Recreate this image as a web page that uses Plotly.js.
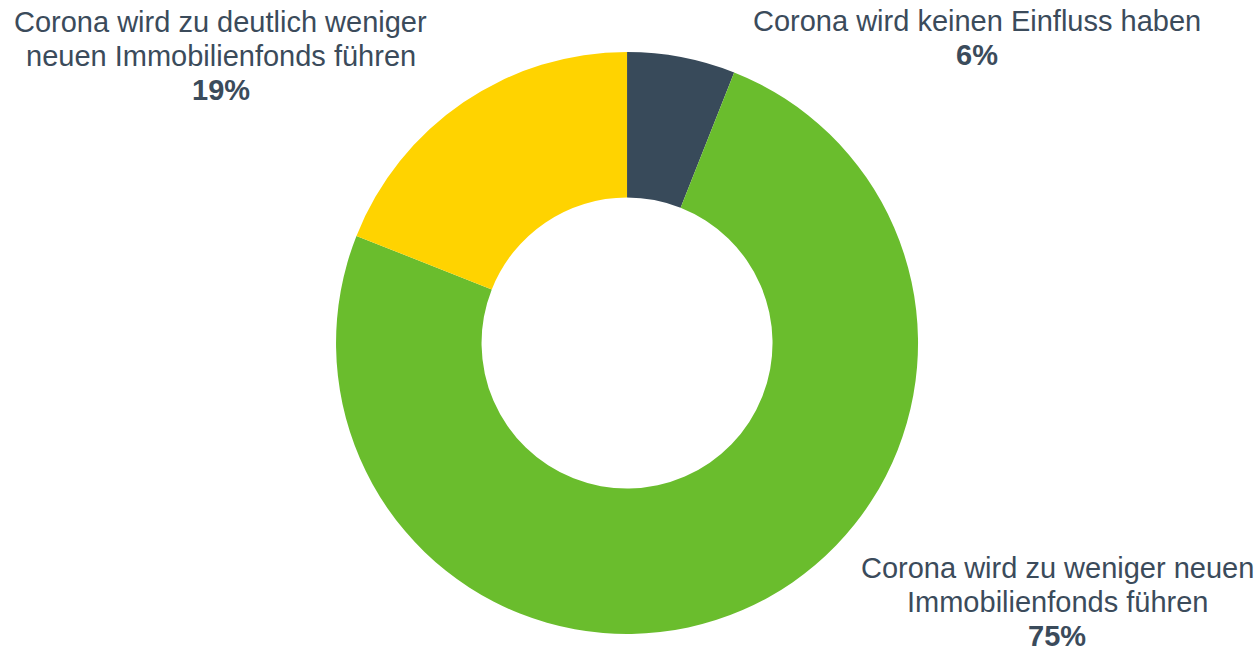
<!DOCTYPE html>
<html>
<head>
<meta charset="utf-8">
<script src="https://cdn.plot.ly/plotly-3.0.1.min.js"></script>
<style>html,body{margin:0;padding:0;background:#fff;}#chart{width:1260px;height:650px;}</style>
</head>
<body>
<div id="chart"></div>
<script>
const categories = [
  "Corona wird keinen Einfluss haben",
  "Corona wird zu weniger neuen Immobilienfonds führen",
  "Corona wird zu deutlich weniger neuen Immobilienfonds führen"
];
const labelLines = [
  ["Corona wird keinen Einfluss haben"],
  ["Corona wird zu weniger neuen", "Immobilienfonds führen"],
  ["Corona wird zu deutlich weniger", "neuen Immobilienfonds führen"]
];
const values = [6, 75, 19];
const colors = ["#384a5a", "#6abd2d", "#ffd300"];
// label block: center x (px), first line y (px)
const labelPos = [[977, 21], [1057, 568], [221, 22]];
const lineStep = 34;

const W = 1260, H = 650;
const textColor = "#3b4b5b";
const font = "Liberation Sans, Arial, sans-serif";
const annotations = [];
categories.forEach((c, i) => {
  const lines = labelLines[i].concat(["<b>" + values[i] + "%</b>"]);
  lines.forEach((t, j) => {
    annotations.push({
      xref: "paper", yref: "paper",
      x: labelPos[i][0] / W,
      y: 1 - (labelPos[i][1] + j * lineStep) / H,
      xanchor: "center", yanchor: "middle",
      showarrow: false,
      text: t,
      font: {family: font, size: 29, color: textColor}
    });
  });
});

Plotly.newPlot("chart", [{
  type: "pie",
  labels: categories,
  values: values,
  hole: 0.5,
  sort: false,
  direction: "clockwise",
  rotation: 0,
  marker: {colors: colors, line: {width: 0}},
  textinfo: "none",
  hoverinfo: "label+percent",
  domain: {x: [0.2667, 0.7286], y: [0.0246, 0.92]}
}], {
  width: W, height: H,
  margin: {l: 0, r: 0, t: 0, b: 0},
  showlegend: false,
  paper_bgcolor: "#ffffff",
  annotations: annotations
}, {displayModeBar: false, staticPlot: true});
</script>
</body>
</html>
